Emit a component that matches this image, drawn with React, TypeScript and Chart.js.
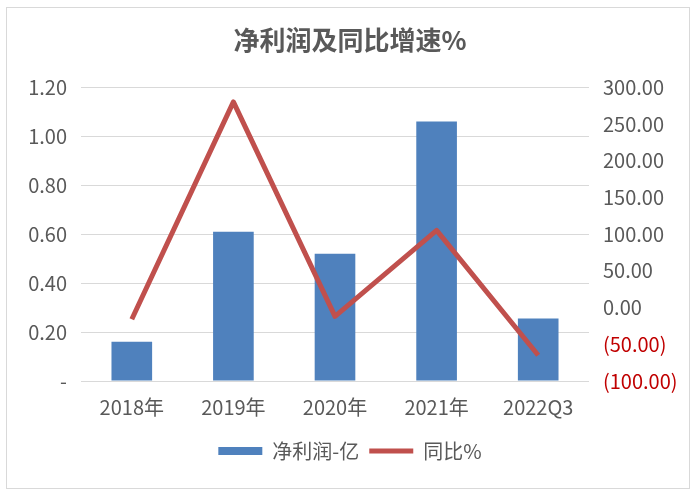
import React, { useEffect, useRef } from "react";
import { Chart, registerables } from "chart.js";

Chart.register(...registerables);

const categories = ["2018年", "2019年", "2020年", "2021年", "2022Q3"];
const netProfit = [0.16, 0.61, 0.52, 1.06, 0.255];
const yoyGrowth = [-16, 280, -12, 105, -65];
const titleText = "净利润及同比增速%";
const barLabel = "净利润-亿";
const lineLabel = "同比%";

const FONT = "'Noto Sans CJK SC', 'Noto Sans', sans-serif";
const GRAY = "#595959";
const RED_TICK = "#C00000";

export default function App() {
  const ref = useRef<HTMLCanvasElement | null>(null);

  useEffect(() => {
    if (!ref.current) return;
    const chart = new Chart(ref.current, {
      type: "bar",
      data: {
        labels: categories,
        datasets: [
          {
            type: "bar",
            label: barLabel,
            data: netProfit,
            backgroundColor: "#4F81BD",
            borderWidth: 0,
            yAxisID: "y",
            order: 1,
            categoryPercentage: 1,
            barPercentage: 0.4,
            pointStyle: "rect",
          } as any,
          {
            type: "line",
            label: lineLabel,
            data: yoyGrowth,
            borderColor: "#C0504D",
            backgroundColor: "#C0504D",
            borderWidth: 5,
            pointRadius: 0,
            pointHoverRadius: 0,
            tension: 0,
            borderJoinStyle: "round",
            yAxisID: "y1",
            order: 0,
            pointStyle: "line",
          } as any,
        ],
      },
      options: {
        responsive: false,
        animation: false,
        layout: { padding: { top: 25, bottom: 23, left: 0, right: 0 } },
        plugins: {
          title: {
            display: true,
            text: titleText,
            color: GRAY,
            font: { family: FONT, size: 26, weight: "bold" },
            padding: { top: 0, bottom: 31 },
          },
          legend: {
            position: "bottom",
            labels: {
              usePointStyle: true,
              pointStyleWidth: 44,
              boxHeight: 8,
              padding: 10,
              color: GRAY,
              font: { family: FONT, size: 20 },
              sort: (a: any, b: any) => a.datasetIndex - b.datasetIndex,
            },
          },
          tooltip: { enabled: false },
        },
        scales: {
          x: {
            grid: { display: false, drawTicks: false },
            border: { display: false },
            ticks: {
              color: GRAY,
              font: { family: FONT, size: 20 },
              padding: 14,
              maxRotation: 0,
            },
            afterFit: (s: any) => {
              s.height = 50;
            },
          },
          y: {
            position: "left",
            min: 0,
            max: 1.2,
            grid: { color: "#D9D9D9", lineWidth: 1, drawTicks: false },
            border: { display: false },
            ticks: {
              stepSize: 0.2,
              color: GRAY,
              font: { family: FONT, size: 20 },
              padding: 14,
              callback: (v: any) => (Math.abs(Number(v)) < 1e-9 ? "-" : Number(v).toFixed(2)),
            },
            afterFit: (s: any) => {
              s.width = 81;
            },
          },
          y1: {
            position: "right",
            min: -100,
            max: 300,
            grid: { display: false, drawTicks: false },
            border: { display: false },
            ticks: {
              stepSize: 50,
              color: (ctx: any) => (ctx.tick && ctx.tick.value < 0 ? RED_TICK : GRAY),
              font: { family: FONT, size: 20 },
              padding: 14,
              callback: (v: any) => {
                const n = Number(v);
                return n < 0 ? `(${Math.abs(n).toFixed(2)})` : n.toFixed(2);
              },
            },
            afterFit: (s: any) => {
              s.width = 111;
            },
          },
        },
      } as any,
    });
    return () => chart.destroy();
  }, []);

  return (
    <div style={{ position: "fixed", left: 0, top: 0, width: 700, height: 494, background: "#fff" }}>
      <div
        style={{
          position: "absolute",
          left: 6,
          top: 7,
          width: 684,
          height: 482,
          border: "1px solid #D9D9D9",
          boxSizing: "border-box",
        }}
      />
      <canvas ref={ref} width={700} height={494} style={{ position: "absolute", left: 0, top: 0 }} />
    </div>
  );
}
